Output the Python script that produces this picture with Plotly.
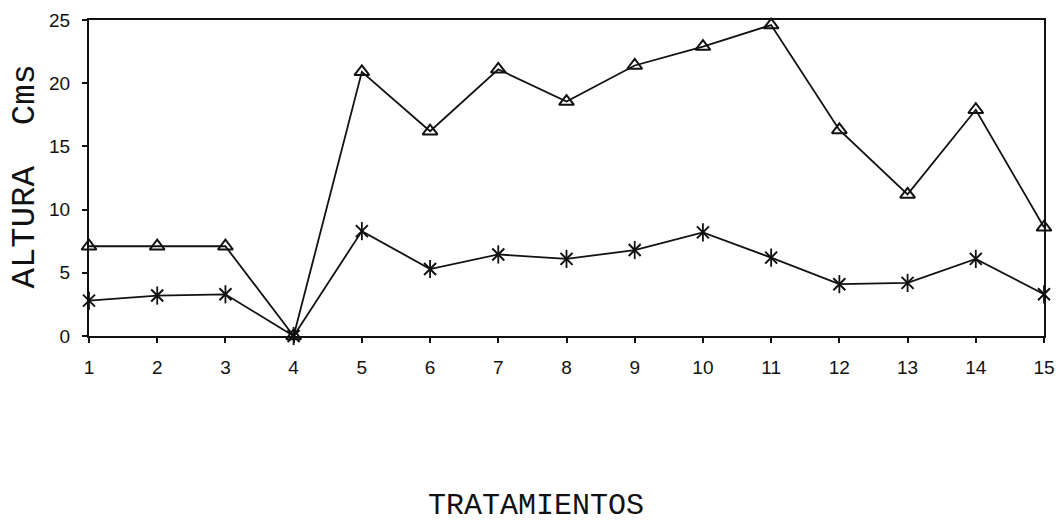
import plotly.graph_objects as go

tratamientos = list(range(1, 16))
altura_triangulo = [7.1, 7.1, 7.1, 0, 20.9, 16.2, 21.1, 18.55, 21.4, 22.9, 24.6, 16.3, 11.2, 17.9, 8.6]
altura_asterisco = [2.8, 3.2, 3.3, 0, 8.3, 5.3, 6.45, 6.1, 6.8, 8.2, 6.2, 4.1, 4.2, 6.1, 3.3]
y_ticks = [0, 5, 10, 15, 20, 25]

L, R, T, B = 89, 12, 20, 190
W, H = 1056, 526
INK = "#111"

fig = go.Figure()
fig.add_trace(go.Scatter(
    x=tratamientos, y=altura_triangulo, mode="lines+markers",
    line=dict(color=INK, width=1.8),
    marker=dict(symbol="triangle-up-open", size=13, color=INK, line=dict(width=2, color=INK)),
    showlegend=False, cliponaxis=False))
fig.add_trace(go.Scatter(
    x=tratamientos, y=altura_asterisco, mode="lines+markers",
    line=dict(color=INK, width=1.8),
    marker=dict(symbol="x-thin-open", size=12, color=INK, line=dict(width=2, color=INK)),
    showlegend=False, cliponaxis=False))
fig.add_trace(go.Scatter(
    x=tratamientos, y=altura_asterisco, mode="markers",
    marker=dict(symbol="line-ns-open", size=13, color=INK, line=dict(width=1.8, color=INK)),
    showlegend=False, cliponaxis=False, hoverinfo="skip"))

axis_font = dict(family="Liberation Sans, Arial", size=19, color=INK)
fig.update_xaxes(range=[1, 15], tickvals=tratamientos, ticks="outside", ticklen=5,
                 tickcolor=INK, tickwidth=1.5, showline=True, linecolor=INK,
                 linewidth=2, mirror=True, showgrid=False, zeroline=False,
                 tickfont=axis_font, ticklabelstandoff=8, fixedrange=True)
fig.update_yaxes(range=[0, 25], tickvals=y_ticks, ticks="outside", ticklen=5,
                 tickcolor=INK, tickwidth=1.5, showline=True, linecolor=INK,
                 linewidth=2, mirror=True, showgrid=False, zeroline=False,
                 tickfont=axis_font, ticklabelstandoff=8, fixedrange=True)

pw, ph = W - L - R, H - T - B
mono = "Liberation Mono, Courier New, monospace"
fig.add_annotation(text="ALTURA  Cms", xref="paper", yref="paper",
                   x=(24 - L) / pw, y=(H - B - 176.5) / ph, textangle=-90,
                   showarrow=False, xanchor="center", yanchor="middle",
                   font=dict(family=mono, size=34, color=INK))
fig.add_annotation(text="TRATAMIENTOS", xref="paper", yref="paper",
                   x=(536 - L) / pw, y=(H - B - 524) / ph,
                   showarrow=False, xanchor="center", yanchor="bottom", borderpad=0,
                   font=dict(family=mono, size=30, color=INK))

fig.update_layout(width=W, height=H, margin=dict(l=L, r=R, t=T, b=B, autoexpand=False),
                  paper_bgcolor="white", plot_bgcolor="white")
fig.write_html("out.html", config={"displayModeBar": False},
               post_script="document.body.style.margin='0';document.body.style.overflow='hidden';")
